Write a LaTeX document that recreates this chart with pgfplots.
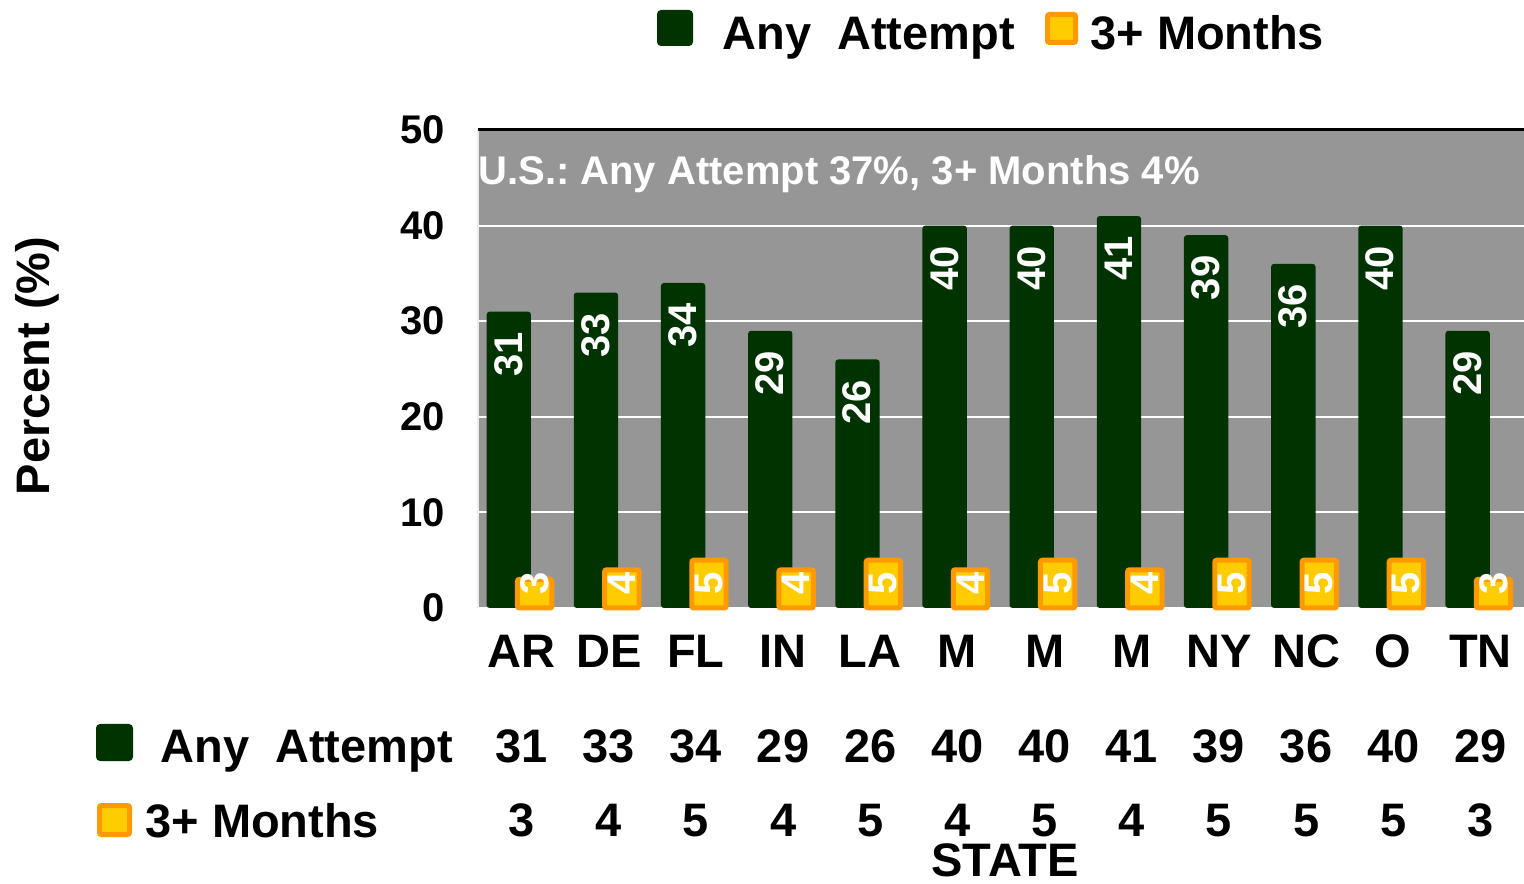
\documentclass[border=0pt]{standalone}
\usepackage{pgfplots}
\pgfplotsset{compat=1.18}
\usepackage{pgfplotstable}
\usepackage{fontspec}
\setmainfont{Liberation Sans}
\frenchspacing
\definecolor{dgreen}{RGB}{0,51,0}
\definecolor{yel}{RGB}{255,204,0}
\definecolor{orng}{RGB}{255,153,0}
\definecolor{bggray}{RGB}{150,150,150}
\newcommand{\bigf}{\fontsize{23.5}{28}\selectfont\bfseries}
\newcommand{\midf}{\fontsize{20}{24}\selectfont\bfseries}

\pgfplotstableread{
x state any three
0 AR 31 3
1 DE 33 4
2 FL 34 5
3 IN 29 4
4 LA 26 5
5 M 40 4
6 M 40 5
7 M 41 4
8 NY 39 5
9 NC 36 5
10 O 40 5
11 TN 29 3
}\datatable

\begin{document}
\begin{tikzpicture}
\path[use as bounding box] (0,0) rectangle (762pt,441.5pt);
\begin{axis}[
 at={(239pt,137.5pt)}, anchor=south west,
 scale only axis, width=523pt, height=239pt,
 xmin=-0.5, xmax=11.5, ymin=0, ymax=50,
 clip=false,
 axis background/.style={fill=bggray},
 separate axis lines,
 axis x line=bottom, axis y line=left,
 x axis line style={draw=white, line width=1pt, -},
 y axis line style={draw=white!85!gray, line width=0.8pt, -},
 ymajorgrids, major grid style={white, line width=1pt},
 major tick length=0pt,
 ytick={0,10,...,50},
 xtick={0,...,11},
 xticklabels from table={\datatable}{state},
 xticklabel style={font=\bigf, anchor=base, inner sep=0pt, yshift=-30pt},
 yticklabel style={font=\midf, anchor=east, inner sep=0pt, xshift=-16.5pt},
 /pgf/number format/assume math mode=true,
]
\addplot[ybar, bar width=22.2pt, bar shift=-6.4pt, fill=dgreen, draw=none, rounded corners=1.5pt]
 table[x=x, y=any]{\datatable};
\addplot[ybar, bar width=17.2pt, bar shift=6.55pt, fill=yel, draw=orng, line width=2.5pt, rounded corners=1pt]
 table[x=x, y=three]{\datatable};
% labels inside the green bars
\addplot[draw=none, nodes near coords, point meta=explicit,
 every node near coord/.append style={font=\midf, text=white, rotate=90, anchor=east, inner xsep=10pt, inner ysep=0pt}]
 table[x expr=\thisrow{x}-0.15, y=any, meta=any]{\datatable};
% labels inside the yellow bars
\addplot[draw=none, nodes near coords, point meta=explicit,
 every node near coord/.append style={font=\midf, text=white, rotate=90, anchor=center, inner sep=0pt}]
 table[x expr=\thisrow{x}+0.15, y expr=2.6, meta=three]{\datatable};
% data table rows
\addplot[draw=none, nodes near coords, point meta=explicit,
 every node near coord/.append style={font=\bigf, text=black, anchor=base, inner sep=0pt}]
 table[x=x, y expr=-16.11, meta=any]{\datatable};
\addplot[draw=none, nodes near coords, point meta=explicit,
 every node near coord/.append style={font=\bigf, text=black, anchor=base, inner sep=0pt}]
 table[x=x, y expr=-23.95, meta=three]{\datatable};
\draw[black, line width=1.5pt] (rel axis cs:0,1) -- (rel axis cs:1,1);
\node[anchor=base west, font=\midf, text=white, inner sep=0pt] at (axis cs:-0.5,44.25) {U.S.: Any Attempt 37\%, 3+ Months 4\%};
\end{axis}
% top legend
\fill[dgreen, rounded corners=2pt] (328.5pt,418.5pt) rectangle (346.5pt,436.5pt);
\node[anchor=base west, font=\bigf, inner sep=0pt] at (361pt,416.5pt) {Any~~Attempt};
\filldraw[fill=yel, draw=orng, line width=2.5pt, rounded corners=1pt] (523.75pt,420.25pt) rectangle (537.75pt,434.25pt);
\node[anchor=base west, font=\bigf, inner sep=0pt] at (545pt,416.5pt) {3+ Months};
% table legend
\fill[dgreen, rounded corners=2pt] (48pt,61pt) rectangle (66.5pt,79.5pt);
\node[anchor=base west, font=\bigf, inner sep=0pt] at (80pt,60.5pt) {Any~~Attempt};
\filldraw[fill=yel, draw=orng, line width=2.5pt, rounded corners=1pt] (49.75pt,24.25pt) rectangle (64.75pt,38.75pt);
\node[anchor=base west, font=\bigf, inner sep=0pt] at (72.5pt,23pt) {3+ Months};
% axis titles
\node[rotate=90, font=\bigf, inner sep=0pt] at (18.5pt,258.5pt) {Percent (\%)};
\node[anchor=base, font=\bigf, inner sep=0pt] at (502.5pt,3.2pt) {STATE};
\end{tikzpicture}
\end{document}
